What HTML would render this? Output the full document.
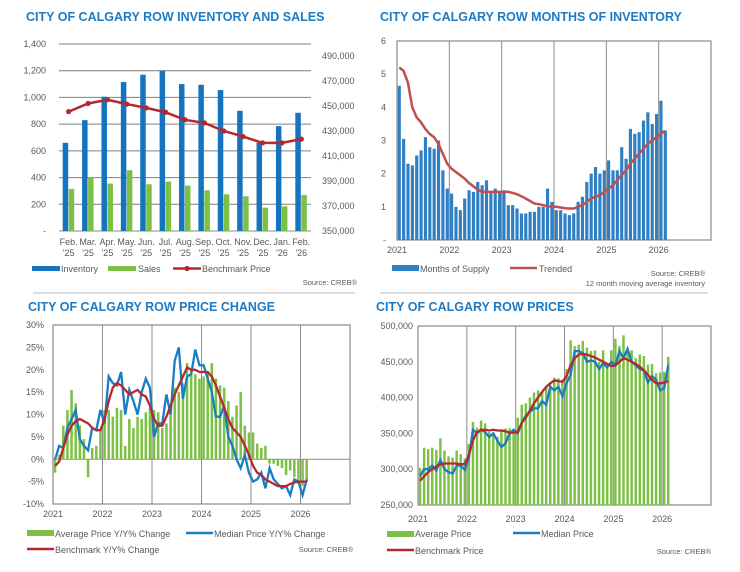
<!DOCTYPE html>
<html><head><meta charset="utf-8"><style>
body{margin:0;background:#fff;}
svg{display:block;font-family:"Liberation Sans",sans-serif;}
.t{font-size:9px;fill:#595959;}
.ttl{font-size:12.5px;font-weight:bold;fill:#1f7bc1;}
</style></head><body>
<svg id="c" width="740" height="572" viewBox="0 0 740 572"></svg>
<script>
// ---- Panel 1 data ----
const p1Cats = ["Feb.|'25","Mar.|'25","Apr.|'25","May.|'25","Jun.|'25","Jul.|'25","Aug.|'25","Sep.|'25","Oct.|'25","Nov.|'25","Dec.|'25","Jan.|'26","Feb.|'26"];
const p1Inventory = [660,830,1005,1115,1170,1200,1100,1095,1055,900,660,785,885];
const p1Sales = [315,400,355,455,350,370,340,305,275,260,175,185,270];
const p1Bench = [445500,452000,455000,451500,448500,445000,439000,436500,430000,425500,420500,420500,423500];
const p1LeftTicks = [0,200,400,600,800,1000,1200,1400];
const p1RightTicks = [350000,370000,390000,410000,430000,450000,470000,490000];
// ---- Panel 2 data (Jan 2021 - Feb 2026) ----
const p2Supply = [4.65,3.05,2.3,2.25,2.55,2.7,3.1,2.8,2.75,3.0,2.1,1.55,
 1.4,1.0,0.9,1.25,1.5,1.45,1.75,1.65,1.8,1.45,1.55,1.45,
 1.5,1.05,1.05,0.95,0.8,0.8,0.85,0.85,1.0,1.0,1.55,1.15,
 0.9,0.9,0.8,0.75,0.8,1.15,1.3,1.75,2.0,2.2,2.0,2.1,
 2.4,2.1,2.1,2.8,2.45,3.35,3.2,3.25,3.6,3.85,3.5,3.8,
 4.2,3.3];
const p2Trend = [5.2,5.1,4.75,4.0,3.7,3.55,3.35,3.2,3.1,2.9,2.6,2.3,
 2.15,2.05,1.95,1.85,1.72,1.62,1.52,1.45,1.45,1.45,1.45,1.45,
 1.45,1.45,1.42,1.38,1.32,1.25,1.18,1.1,1.08,1.05,1.02,1.0,
 1.0,0.98,0.96,0.95,0.95,1.0,1.05,1.15,1.25,1.3,1.35,1.45,
 1.55,1.65,1.8,1.95,2.1,2.3,2.45,2.6,2.75,2.9,3.0,3.1,
 3.2,3.3];
const p2Ticks = [0,1,2,3,4,5,6];
const years = ["2021","2022","2023","2024","2025","2026"];
// ---- Panel 3 data ----
const p3Avg = [-3,1,7.5,11,15.5,12.5,7.5,4.5,-4,2.5,3,6.5,
 11,11,9.5,11.5,11,3,9,7,9.5,9,10.5,11.5,
 11,10.5,7,8,12,16,15,17,21.5,20,19,18,
 18.5,19.5,21.5,18,16.5,16,13,9.5,12,15,7.5,6,
 6,3.5,2.5,3,-1,-1,-1.5,-2,-3.5,-2.5,-4,-5.5,
 -6,-5];
const p3Median = [0,3,2.5,7,9,11,4.5,3,2,7,6.5,11,
 8,18.5,17,16.5,19.5,10,15.5,13,10,15,18,16,
 5,8,8,14.5,10,22,25,13.5,18.5,19,24.5,21,
 21,18,15,9.5,9.5,12,5,3,0,-2,1,-3,
 -5,-4.5,-3,-6.5,-2,-4.5,-5.5,-6.5,-6,-8,-4.5,-5,
 -8,-4.5];
const p3Bench = [-1.5,-0.5,2.5,5.5,7.5,8.5,9,8.5,8,7,6.5,6.5,
 9,13,16,17,16.5,15.5,14.5,15,15.5,14.5,14,12,
 9,7.5,7.5,9.5,12,14.5,16.5,18.5,20.5,20,20,19.5,
 19.5,19.5,18.5,16.5,14,11.5,9,7,6,5,3,1,
 -1.5,-3,-3.5,-4.5,-5,-5.5,-6,-6,-6,-5.5,-5.2,-5,
 -5,-5];
const p3Ticks = [-10,-5,0,5,10,15,20,25,30];
// ---- Panel 4 data ----
const p4Avg = [302,330,328,330,327,343,326,318,316,326,321,315,
 335,366,358,368,364,352,350,345,355,357,357,350,
 372,390,392,400,407,410,408,415,418,428,427,425,
 440,480,472,474,479,470,465,466,450,466,445,466,
 482,472,487,466,466,455,460,458,446,447,434,435,
 436,457];
const p4Median = [290,300,300,305,298,313,300,296,294,305,305,299,
 316,355,350,355,352,345,350,340,331,336,350,355,
 350,365,375,380,385,385,395,390,415,410,415,402,
 420,432,465,465,462,450,452,450,440,448,442,450,
 445,465,455,468,450,445,440,438,421,430,425,410,
 413,446];
const p4Bench = [284,290,296,300,304,307,308,308,308,308,307,307,
 320,340,352,355,355,354,355,354,354,353,351,351,
 352,365,372,382,392,400,408,415,420,424,423,422,
 430,445,455,460,461,460,458,456,453,450,447,444,
 445,450,455,453,450,447,443,438,432,425,420,420,
 421,423];
const p4Ticks = [250000,300000,350000,400000,450000,500000];

const NS="http://www.w3.org/2000/svg";
const svg=document.getElementById('c');
function mk(tag,a,parent){const e=document.createElementNS(NS,tag);for(const k in a)e.setAttribute(k,a[k]);(parent||svg).appendChild(e);return e;}
function txt(x,y,s,cls,anchor,fill){const e=mk('text',{x:x,y:y,'class':cls,'text-anchor':anchor||'start'});if(fill)e.setAttribute('fill',fill);e.textContent=s;return e;}
const BLUE="#1574c0",GREEN="#7cc045",RED="#b5282d",GRAY="#7f7f7f";
function fmt(n){return n.toLocaleString('en-US');}
function pathOf(pts){return pts.map((p,i)=>(i?'L':'M')+p[0].toFixed(1)+' '+p[1].toFixed(1)).join(' ');}

// dividers
let d;
d=mk('line',{x1:33,y1:293,x2:355,y2:293,stroke:'#bbb','stroke-width':1});


d=mk('line',{x1:380,y1:293,x2:708,y2:293,stroke:'#bbb','stroke-width':1});



// ===== Panel 1 =====
(function(){
 let t=txt(26,21,'CITY OF CALGARY ROW INVENTORY AND SALES','ttl');
 
 
 const x0=59,x1=311,y0=231,yTop=44;
 const yl=v=>y0-(v/1400)*(y0-yTop);
 const yr=v=>231-(v-350000)/20000*25;
 const cw=(x1-x0)/p1Cats.length;
 const cx=i=>x0+cw*(i+0.5);
 p1LeftTicks.forEach(v=>{
  const g=mk('line',{x1:x0,x2:x1,y1:yl(v),y2:yl(v),stroke:v===0?'#888':'#7f7f7f','stroke-width':1});
  
  
  const l=txt(46,yl(v)+3,v===0?'-':fmt(v),'t','end');
  
  
 });
 p1RightTicks.forEach(v=>{
  const l=txt(322,yr(v)+3,fmt(v),'t','start','#c0393b');
  
  
 });
 p1Cats.forEach((c,i)=>{
  const b=mk('rect',{x:cx(i)-6,y:yl(p1Inventory[i]),width:5.5,height:y0-yl(p1Inventory[i]),fill:BLUE});
  
  
  const s=mk('rect',{x:cx(i),y:yl(p1Sales[i]),width:5.5,height:y0-yl(p1Sales[i]),fill:GREEN});
  
  
  const parts=c.split('|');
  const a=txt(cx(i),245,parts[0],'t','middle');
  
  
  const b2=txt(cx(i),256,parts[1],'t','middle');
  
  
 });
 const p=mk('path',{d:pathOf(p1Bench.map((v,i)=>[cx(i),yr(v)])),fill:'none',stroke:RED,'stroke-width':2.5});
 
 
 p1Bench.forEach((v,i)=>{const m=mk('circle',{cx:cx(i),cy:yr(v),r:2.6,fill:RED});
  
  });
 let e;
 e=mk('rect',{x:32,y:266,width:28,height:5,fill:BLUE});
 e=txt(61,272,'Inventory','t');
 e=mk('rect',{x:108,y:266,width:28,height:5,fill:GREEN});
 e=txt(138,272,'Sales','t');
 e=mk('line',{x1:173,x2:201,y1:268.5,y2:268.5,stroke:RED,'stroke-width':2.5});
 e=mk('circle',{cx:187,cy:268.5,r:2.6,fill:RED});
 e=txt(202,272,'Benchmark Price','t');
 e=txt(357,285,'Source: CREB®','t','end');e.setAttribute('style','font-size:7.5px');
})();

// generic time-series frame
function frame(x0,x1,yT,yB,yearLabelY,name){
 const b=mk('rect',{x:x0,y:yT,width:x1-x0,height:yB-yT,fill:'none',stroke:'#8c8c8c','stroke-width':1.2});
 
 
 const yw=(x1-x0)/6;
 years.forEach((y,i)=>{
  const xx=x0+yw*i;
  if(i>0){const g=mk('line',{x1:xx,x2:xx,y1:yT,y2:yB,stroke:'#8c8c8c','stroke-width':1});
   
   }
  const l=txt(xx,yearLabelY,y,'t','middle');
  
  
 });
 return yw/12;
}

// ===== Panel 2 =====
(function(){
 let t=txt(380,21,'CITY OF CALGARY ROW MONTHS OF INVENTORY','ttl');
 
 
 const x0=397,x1=711,yT=41,yB=240;
 const y=v=>yB-v/6*(yB-yT);
 const mw=frame(x0,x1,yT,yB,253,'months-inventory');
 p2Ticks.forEach(v=>{const l=txt(386,y(v)+3,v===0?'-':String(v),'t','end');
  
  });
 p2Supply.forEach((v,i)=>{const r=mk('rect',{x:x0+mw*i+0.7,y:y(v),width:mw-1.2,height:yB-y(v),fill:'#2f7fc4'});
  
  });
 const p=mk('path',{d:pathOf(p2Trend.map((v,i)=>[x0+mw*(i+0.5),y(v)])),fill:'none',stroke:'#c0504d','stroke-width':2.5});
 
 
 let e;
 e=mk('rect',{x:392,y:265,width:27,height:6,fill:'#2f7fc4'});
 e=txt(420,272,'Months of Supply','t');
 e=mk('line',{x1:510,x2:537,y1:268,y2:268,stroke:'#c0504d','stroke-width':2.5});
 e=txt(539,272,'Trended','t');
 e=txt(705,276,'Source: CREB®','t','end');e.setAttribute('style','font-size:7.5px');
 e=txt(705,286,'12 month moving average inventory','t','end');e.setAttribute('style','font-size:7.5px');
})();

// ===== Panel 3 =====
(function(){
 let t=txt(28,311,'CITY OF CALGARY ROW PRICE CHANGE','ttl');
 
 
 const x0=53,x1=350,yT=325,yB=504;
 const y=v=>yB-(v+10)/40*(yB-yT);
 const mw=frame(x0,x1,yT,yB,517,'price-change');
 const z=mk('line',{x1:x0,x2:x1,y1:y(0),y2:y(0),stroke:'#8c8c8c','stroke-width':1});
 
 
 p3Ticks.forEach(v=>{const l=txt(44,y(v)+3,v+'%','t','end');
  
  });
 p3Avg.forEach((v,i)=>{const top=Math.min(y(v),y(0));const r=mk('rect',{x:x0+mw*i+0.8,y:top,width:mw-1.6,height:Math.abs(y(v)-y(0)),fill:GREEN});
  
  });
 const pm=mk('path',{d:pathOf(p3Median.map((v,i)=>[x0+mw*(i+0.5),y(v)])),fill:'none',stroke:'#1a7dc2','stroke-width':2.3});
 
 
 const pb=mk('path',{d:pathOf(p3Bench.map((v,i)=>[x0+mw*(i+0.5),y(v)])),fill:'none',stroke:RED,'stroke-width':2.3});
 
 
 let e;
 e=mk('rect',{x:27,y:530,width:27,height:6,fill:GREEN});
 e=txt(55,537,'Average Price Y/Y% Change','t');
 e=mk('line',{x1:186,x2:213,y1:533,y2:533,stroke:'#1a7dc2','stroke-width':2.5});
 e=txt(214,537,'Median Price Y/Y% Change','t');
 e=mk('line',{x1:27,x2:54,y1:549,y2:549,stroke:RED,'stroke-width':2.5});
 e=txt(55,553,'Benchmark Y/Y% Change','t');
 e=txt(353,552,'Source: CREB®','t','end');e.setAttribute('style','font-size:7.5px');
})();

// ===== Panel 4 =====
(function(){
 let t=txt(376,311,'CITY OF CALGARY ROW PRICES','ttl');
 
 
 const x0=418,x1=711,yT=326,yB=505;
 const y=v=>yB-(v-250000)/250000*(yB-yT);
 const mw=frame(x0,x1,yT,yB,522,'prices');
 p4Ticks.forEach(v=>{const l=txt(413,y(v)+3,fmt(v),'t','end');
  
  });
 p4Avg.forEach((v,i)=>{const r=mk('rect',{x:x0+mw*i+0.8,y:y(v*1000),width:mw-1.6,height:yB-y(v*1000),fill:GREEN});
  
  });
 const pm=mk('path',{d:pathOf(p4Median.map((v,i)=>[x0+mw*(i+0.5),y(v*1000)])),fill:'none',stroke:'#1a7dc2','stroke-width':2.3});
 
 
 const pb=mk('path',{d:pathOf(p4Bench.map((v,i)=>[x0+mw*(i+0.5),y(v*1000)])),fill:'none',stroke:RED,'stroke-width':2.3});
 
 
 let e;
 e=mk('rect',{x:387,y:531,width:27,height:6,fill:GREEN});
 e=txt(415,537,'Average Price','t');
 e=mk('line',{x1:513,x2:540,y1:533,y2:533,stroke:'#1a7dc2','stroke-width':2.5});
 e=txt(541,537,'Median Price','t');
 e=mk('line',{x1:387,x2:414,y1:550,y2:550,stroke:RED,'stroke-width':2.5});
 e=txt(415,554,'Benchmark Price','t');
 e=txt(711,554,'Source: CREB®','t','end');e.setAttribute('style','font-size:7.5px');
})();
</script>
</body></html>
